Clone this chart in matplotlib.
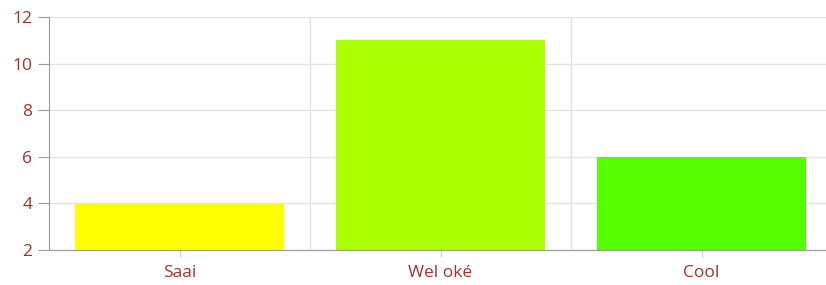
import matplotlib.pyplot as plt
import numpy as np

categories = ['Saai', 'Wel oké', 'Cool']
values = [4, 11, 6]
colors = ['#ffff00', '#aaff00', '#55ff00']
yticks = [2, 4, 6, 8, 10, 12]

text_color = '#a3302f'
axis_color = '#9a9a9a'
grid_color = '#e3e3e3'

plt.rcParams['font.family'] = 'Open Sans'

fig = plt.figure(figsize=(8.26, 2.85), dpi=100)
ax = fig.add_axes([49 / 826, 1 - 250 / 285, 783 / 826, 233 / 285])

x = np.arange(len(categories))
ax.bar(x, np.array(values) - yticks[0], bottom=yticks[0], width=0.8,
       color=colors, zorder=3)

ax.set_xlim(-0.5, len(categories) - 0.5)
ax.set_ylim(yticks[0], yticks[-1])
ax.set_yticks(yticks)
ax.set_xticks(x)
ax.set_xticklabels(categories)
ax.set_xticks(x[:-1] + 0.5, minor=True)

ax.grid(axis='y', color=grid_color, linewidth=1, zorder=0)
ax.grid(axis='x', which='minor', color=grid_color, linewidth=1, zorder=0)
ax.grid(axis='x', which='major', visible=False)

for side in ['top', 'right']:
    ax.spines[side].set_visible(False)
for side in ['left', 'bottom']:
    ax.spines[side].set_color(axis_color)
    ax.spines[side].set_zorder(4)

ax.tick_params(axis='y', length=8, color=axis_color, labelcolor=text_color,
               labelsize=12.5, pad=4)
ax.tick_params(axis='x', which='major', length=5, color='#cccccc',
               labelcolor=text_color, labelsize=12.5, pad=6)
ax.tick_params(axis='x', which='minor', length=0)

fig.savefig('out.png', dpi=100)
